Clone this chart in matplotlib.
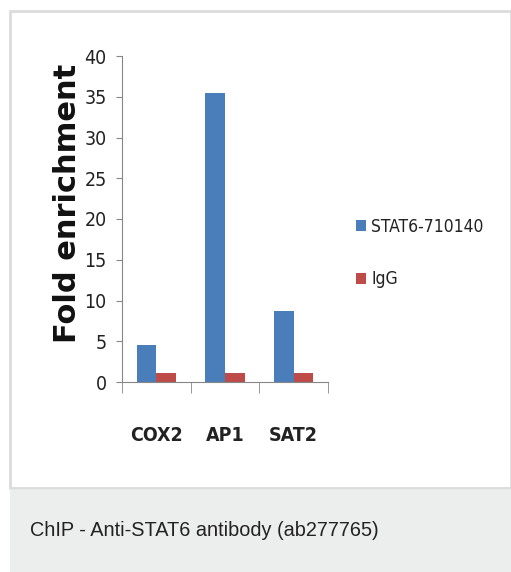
import matplotlib.pyplot as plt
import numpy as np
from matplotlib.patches import Rectangle

# Data
categories = ["COX2", "AP1", "SAT2"]
stat6_values = [4.6, 35.5, 8.7]
igg_values = [1.1, 1.1, 1.1]
series_names = ["STAT6-710140", "IgG"]
y_ticks = [0, 5, 10, 15, 20, 25, 30, 35, 40]
caption = "ChIP - Anti-STAT6 antibody (ab277765)"

blue = "#4a7ebb"
red = "#be4b48"

fig = plt.figure(figsize=(5.11, 5.72), dpi=100)
W, H = 511, 572

# panel background: white card with light border, grey caption strip
bg = fig.add_axes([0, 0, 1, 1])
bg.set_xlim(0, W)
bg.set_ylim(H, 0)
bg.axis("off")
bg.add_patch(Rectangle((10, 11), W - 10, 477, facecolor="white", edgecolor="#dcdcdc", lw=2))
bg.add_patch(Rectangle((10, 488), W - 10, H - 488, facecolor="#eceeed", edgecolor="none"))
bg.plot([10, W], [488, 488], color="#dcdcdc", lw=1)
bg.text(30, 530, caption, fontsize=14.3, family="Liberation Sans", color="#222222", va="center")

# chart axes
ax = fig.add_axes([122 / W, (H - 382) / H, (328 - 122) / W, (382 - 56) / H])
ax.patch.set_alpha(0)
x = np.arange(len(categories))
width = 0.285
ax.bar(x - width / 2, stat6_values, width, color=blue, label=series_names[0])
ax.bar(x + width / 2, igg_values, width, color=red, label=series_names[1])

ax.set_xlim(-0.5, len(categories) - 0.5)
ax.set_ylim(0, 40)
ax.set_yticks(y_ticks)
ax.set_yticklabels([str(t) for t in y_ticks], family="DejaVu Sans", stretch="condensed",
                   fontsize=14, color="#222222")
ax.set_xticks(x)
ax.set_xticklabels(categories, family="DejaVu Sans", stretch="condensed", fontsize=14,
                   fontweight="bold", color="#222222")
ax.set_xticks(np.arange(len(categories) + 1) - 0.5, minor=True)
ax.tick_params(axis="x", which="major", length=0, pad=32)
ax.tick_params(axis="x", which="minor", length=8, color="#868686", direction="out")
ax.tick_params(axis="y", length=4, color="#868686", pad=7)
for s in ["top", "right"]:
    ax.spines[s].set_visible(False)
for s in ["left", "bottom"]:
    ax.spines[s].set_color("#868686")

fig.text(68 / W, 1 - 203 / H, "Fold enrichment", rotation=90, fontsize=22, fontweight="bold",
         family="DejaVu Sans", ha="center", va="center", color="#111111")

ax.legend(loc="upper left", bbox_to_anchor=(340 / W, 1 - 202 / H), bbox_transform=fig.transFigure,
          frameon=False, handlelength=0.6, handleheight=0.6, handletextpad=0.3, labelspacing=2.0,
          prop={"family": "DejaVu Sans", "stretch": "condensed", "size": 12.5})
for t in ax.get_legend().get_texts():
    t.set_color("#222222")

fig.savefig("out.png", dpi=100)
